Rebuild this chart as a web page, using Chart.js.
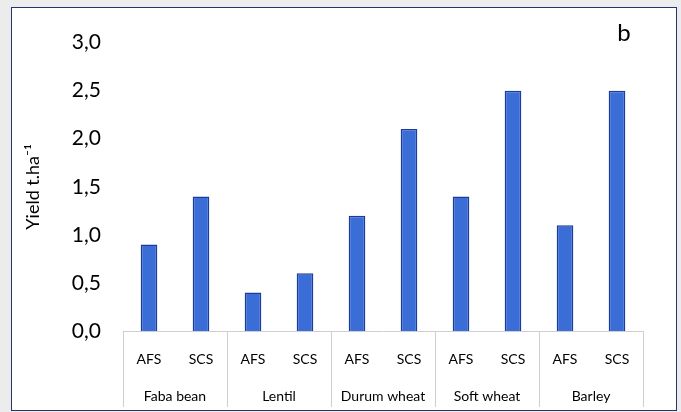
<!DOCTYPE html>
<html>
<head>
<meta charset="utf-8">
<script src="https://cdn.jsdelivr.net/npm/chart.js@4"></script>
<style>
  html, body { margin: 0; padding: 0; background: #ececec; }
  #frame {
    position: absolute; left: 11px; top: 7px;
    width: 666px; height: 404px;
    box-sizing: border-box;
    border: 1.5px solid #27336a;
    background: #fff;
  }
  #chart { display: block; }
</style>
</head>
<body>
<div id="frame"><canvas id="chart" width="663" height="401"></canvas></div>
<script>
// systems per crop, crops, yields (t/ha)
const systems = ["AFS", "SCS", "AFS", "SCS", "AFS", "SCS", "AFS", "SCS", "AFS", "SCS"];
const crops = ["Faba bean", "Lentil", "Durum wheat", "Soft wheat", "Barley"];
const yields = [0.9, 1.4, 0.4, 0.6, 1.2, 2.1, 1.4, 2.5, 1.1, 2.5];
const yTicks = [0, 0.5, 1, 1.5, 2, 2.5, 3];

const fontFam = "Lato, 'Liberation Sans', sans-serif";

// group separators across both label rows (like Excel multi-level axis)
const separators = {
    id: "separators",
    afterDraw(chart) {
        const s = chart.scales.x2;
        const ctx = chart.ctx;
        const w = (s.right - s.left) / crops.length;
        ctx.save();
        ctx.strokeStyle = "#cfcfcf";
        ctx.lineWidth = 1;
        for (let k = 0; k <= crops.length; k++) {
            const x = Math.round(s.left + k * w) + 0.5;
            ctx.beginPath();
            ctx.moveTo(x, chart.chartArea.bottom);
            ctx.lineTo(x, s.bottom - 2);
            ctx.stroke();
        }
        // "b" panel letter
        ctx.fillStyle = "#000";
        ctx.font = "24px " + fontFam;
        ctx.textAlign = "center";
        ctx.textBaseline = "middle";
        ctx.fillText("b", 612, 25);
        ctx.restore();
    }
};

new Chart(document.getElementById("chart"), {
    type: "bar",
    data: {
        labels: systems,
        datasets: [{
            data: yields,
            backgroundColor: "#3b6dd6",
            borderColor: "#1d3b9c",
            borderWidth: 1.5,
            categoryPercentage: 1,
            barPercentage: 0.32
        }]
    },
    options: {
        responsive: false,
        animation: false,
        layout: { padding: { left: 0, top: 30, right: 32, bottom: 0 } },
        plugins: { legend: { display: false }, tooltip: { enabled: false } },
        scales: {
            y: {
                min: 0, max: 3,
                afterBuildTicks: s => { s.ticks = yTicks.map(v => ({ value: v })); },
                afterFit: s => { s.width = 111; },
                grid: { display: false, drawTicks: false },
                border: { display: false },
                ticks: {
                    padding: 22,
                    color: "#000",
                    font: { family: fontFam, size: 21 },
                    callback: v => v.toFixed(1).replace(".", ",")
                },
                title: {
                    display: true,
                    text: "Yield t.ha\u207B\u00B9",
                    color: "#000",
                    font: { family: fontFam, size: 18 },
                    padding: { top: 10, bottom: 0 }
                }
            },
            x: {
                weight: 0,
                afterFit: s => { s.height = 40; },
                grid: { display: false, drawTicks: false },
                border: { display: true, color: "#cfcfcf", width: 1 },
                ticks: {
                    padding: 20,
                    color: "#000",
                    maxRotation: 0,
                    autoSkip: false,
                    font: { family: fontFam, size: 14 }
                }
            },
            x2: {
                type: "category",
                position: "bottom",
                weight: 1,
                labels: crops,
                afterFit: s => { s.height = 38; },
                grid: { display: false, drawTicks: false },
                border: { display: false },
                ticks: {
                    padding: 17,
                    color: "#000",
                    maxRotation: 0,
                    autoSkip: false,
                    font: { family: fontFam, size: 14 }
                }
            }
        }
    },
    plugins: [separators]
});
</script>
</body>
</html>
